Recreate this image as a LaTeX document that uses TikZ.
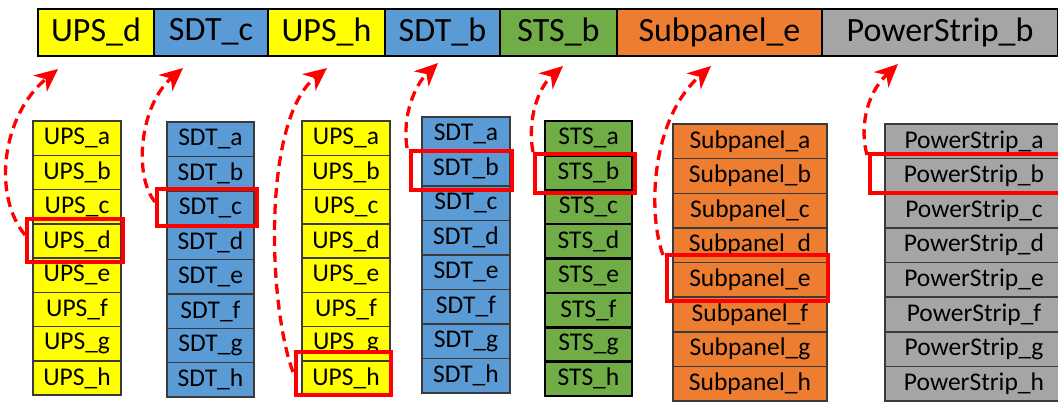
\documentclass[tikz,border=0pt]{standalone}
\usepackage{fontspec}
\setmainfont{Carlito}
\usetikzlibrary{arrows.meta}
\definecolor{upsY}{HTML}{FFFF00}
\definecolor{sdtB}{HTML}{5B9BD5}
\definecolor{stsG}{HTML}{70AD47}
\definecolor{subO}{HTML}{ED7D31}
\definecolor{psG}{HTML}{A5A5A5}
\definecolor{edgeD}{HTML}{3A3A3A}
\definecolor{hlR}{HTML}{FF0000}
\tikzset{
  cell/.style={rectangle, inner sep=0pt, text=black, font=\fontsize{25.5}{28}\selectfont},
  topcell/.style={rectangle, draw=black, line width=2pt, inner sep=0pt, minimum height=47pt, text=black, font=\fontsize{34}{38}\selectfont},
  hlbox/.style={rectangle, draw=hlR, line width=4pt, inner sep=0pt},
  jump/.style={draw=hlR, line width=3.3pt, dash pattern=on 10pt off 6pt, -{Stealth[length=23pt,width=21pt,inset=7pt]}},
}
\begin{document}
\begin{tikzpicture}[x=1pt,y=-1pt]
\useasboundingbox (0,0) rectangle (1058,402);
\fill[white] (0,0) rectangle (1058,402);
% top bar
\foreach \n/\xl/\xr/\col/\txt in {1/38/154/upsY/UPS\_d, 2/154/268/sdtB/SDT\_c, 3/268/385/upsY/UPS\_h, 4/385/500/sdtB/SDT\_b, 5/500/617/stsG/STS\_b, 6/617/822/subO/Subpanel\_e, 7/822/1058/psG/PowerStrip\_b}{
  \pgfmathsetmacro\w{\xr-\xl}
  \node[topcell, fill=\col, minimum width=\w pt] (t\n) at ({(\xl+\xr)/2},32) {\txt};
}
% columns
\foreach \c/\xl/\xr/\yt/\yb/\lab/\col/\bc/\lw in {
  1/33/121/121/395/UPS/upsY/edgeD/1.5,
  2/167/254/122/397/SDT/sdtB/edgeD/1.5,
  3/302/390/121/395/UPS/upsY/edgeD/1.5,
  4/422/510/117/393/SDT/sdtB/edgeD/1.5,
  5/545/632/121/396/STS/stsG/black/2.5,
  6/673/827/124/401/Subpanel/subO/edgeD/1.5,
  7/885/1063/124/401/PowerStrip/psG/edgeD/1.5}{
  \pgfmathsetmacro\h{(\yb-\yt)/8}
  \pgfmathsetmacro\w{\xr-\xl}
  \foreach \r [count=\i from 0] in {a,b,c,d,e,f,g,h}{
    \node[cell, fill=\col, draw=\bc, line width=\lw pt, minimum width=\w pt, minimum height=\h pt] (c\c\r) at ({(\xl+\xr)/2},{\yt+(\i+0.5)*\h}) {\lab\_\r};
  }
}
% highlight boxes
\node[hlbox, minimum width=96pt, minimum height=43pt] (hl1) at (75,240.5) {};
\node[hlbox, minimum width=100pt, minimum height=37pt] (hl2) at (207,207.5) {};
\node[hlbox, minimum width=95pt, minimum height=43pt] (hl3) at (343.5,373.5) {};
\node[hlbox, minimum width=101pt, minimum height=39pt] (hl4) at (461.5,170.5) {};
\node[hlbox, minimum width=100pt, minimum height=39pt] (hl5) at (585,173.5) {};
\node[hlbox, minimum width=161pt, minimum height=46pt] (hl6) at (747.5,278) {};
\node[hlbox, minimum width=198pt, minimum height=39pt] (hl7) at (969,173.5) {};
% arrow ends
\coordinate (s1) at (25,235);  \coordinate (e1) at (58,69);
\coordinate (s2) at (155,202); \coordinate (e2) at (183,68);
\coordinate (s3) at (293,372); \coordinate (e3) at (327,68);
\coordinate (s4) at (407,148); \coordinate (e4) at (438,63);
\coordinate (s5) at (533,152); \coordinate (e5) at (563,66);
\coordinate (s6) at (663,255); \coordinate (e6) at (711,66);
\coordinate (s7) at (867,155); \coordinate (e7) at (898,64);
% arrows
\draw[jump] (s1) .. controls (-8,195) and (2,115) .. (e1);
\draw[jump] (s2) .. controls (133,175) and (140,105) .. (e2);
\draw[jump] (s3) .. controls (268,305) and (262,120) .. (e3);
\draw[jump] (s4) .. controls (402,115) and (415,85) .. (e4);
\draw[jump] (s5) .. controls (527,120) and (538,88) .. (e5);
\draw[jump] (s6) .. controls (648,215) and (650,120) .. (e6);
\draw[jump] (s7) .. controls (860,130) and (865,95) .. (e7);
\end{tikzpicture}
\end{document}
